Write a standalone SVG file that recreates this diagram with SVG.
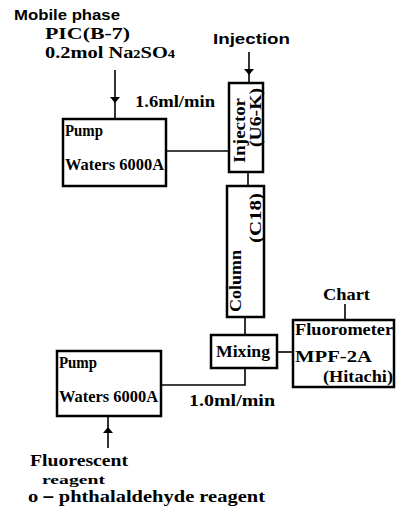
<svg xmlns="http://www.w3.org/2000/svg" width="401" height="509" viewBox="0 0 401 509">
<style>
.box{fill:#fff;stroke:#000;stroke-width:2.5}
.ln{fill:none;stroke:#000;stroke-width:1.6}
text{font-family:"Liberation Serif","DejaVu Serif",serif;font-weight:bold;fill:#000;font-size:17px}
.sans{font-family:"Liberation Sans","DejaVu Sans",sans-serif;font-size:15px}
</style>
<defs>
<marker id="ah" viewBox="0 0 6 10" refX="3" refY="5" markerWidth="6" markerHeight="10" markerUnits="userSpaceOnUse" orient="auto">
<path d="M0,0 L6,5 L0,10 Z" fill="#000"/>
</marker>
</defs>
<g id="labels">
<text x="14" y="20" class="sans" textLength="106" lengthAdjust="spacingAndGlyphs">Mobile phase</text>
<text x="45" y="39" textLength="85" lengthAdjust="spacingAndGlyphs">PIC(B-7)</text>
<text x="45" y="58" textLength="130" lengthAdjust="spacingAndGlyphs">0.2mol Na<tspan font-size="12">2</tspan>SO<tspan font-size="12">4</tspan></text>
<text x="135" y="107" textLength="80" lengthAdjust="spacingAndGlyphs">1.6ml/min</text>
<text x="213" y="44" class="sans" textLength="77" lengthAdjust="spacingAndGlyphs">Injection</text>
<text x="323" y="300" textLength="47" lengthAdjust="spacingAndGlyphs">Chart</text>
<text x="189" y="406" textLength="86" lengthAdjust="spacingAndGlyphs">1.0ml/min</text>
<text x="30" y="466" style="font-size:16px" textLength="98" lengthAdjust="spacingAndGlyphs">Fluorescent</text>
<text x="42" y="484" style="font-size:13px" textLength="63" lengthAdjust="spacingAndGlyphs">reagent</text>
<text x="28" y="502" textLength="237" lengthAdjust="spacingAndGlyphs">o－phthalaldehyde reagent</text>
</g>
<g id="connectors">
<path class="ln" d="M115,70 L115,100 L115,119" marker-mid="url(#ah)"/>
<line class="ln" x1="166" y1="151" x2="229" y2="151"/>
<path class="ln" d="M249,52 L249,72 L249,83" marker-mid="url(#ah)"/>
<line class="ln" x1="248" y1="172" x2="248" y2="186"/>
<line class="ln" x1="245" y1="317" x2="245" y2="335"/>
<line class="ln" x1="277" y1="352" x2="293" y2="352"/>
<line class="ln" x1="345" y1="304" x2="345" y2="320"/>
<path class="ln" d="M245,368 L245,385 L161,385"/>
<path class="ln" d="M108,448 L108,430 L108,416" marker-mid="url(#ah)"/>
</g>
<g id="pump1">
<rect class="box" x="63" y="119" width="103" height="67"/>
<text x="65" y="136" style="font-size:16px" textLength="38" lengthAdjust="spacingAndGlyphs">Pump</text>
<text x="65" y="170" style="font-size:16px" textLength="99" lengthAdjust="spacingAndGlyphs">Waters 6000A</text>
</g>
<g id="injector">
<rect class="box" x="229" y="83" width="34" height="89"/>
<text transform="translate(245 163) rotate(-90)" style="font-size:16px" textLength="65" lengthAdjust="spacingAndGlyphs">Injector</text>
<text transform="translate(261 147) rotate(-90)" style="font-size:16px" textLength="59" lengthAdjust="spacingAndGlyphs">(U6-K)</text>
</g>
<g id="column">
<rect class="box" x="227" y="186" width="37" height="131"/>
<text transform="translate(241 312) rotate(-90)" style="font-size:16px" textLength="62" lengthAdjust="spacingAndGlyphs">Column</text>
<text transform="translate(261 243) rotate(-90)" style="font-size:16px" textLength="50" lengthAdjust="spacingAndGlyphs">(C18)</text>
</g>
<g id="mixing">
<rect class="box" x="211" y="335" width="66" height="33"/>
<text x="216" y="357" style="font-size:16px" textLength="54" lengthAdjust="spacingAndGlyphs">Mixing</text>
</g>
<g id="fluorometer">
<rect class="box" x="293" y="320" width="101" height="67"/>
<text x="295" y="335" style="font-size:16px" textLength="98" lengthAdjust="spacingAndGlyphs">Fluorometer</text>
<text x="295" y="362" textLength="77" lengthAdjust="spacingAndGlyphs">MPF-2A</text>
<text x="323" y="382" textLength="70" lengthAdjust="spacingAndGlyphs">(Hitachi)</text>
</g>
<g id="pump2">
<rect class="box" x="57" y="351" width="104" height="65"/>
<text x="59" y="368" style="font-size:16px" textLength="38" lengthAdjust="spacingAndGlyphs">Pump</text>
<text x="59" y="402" style="font-size:16px" textLength="99" lengthAdjust="spacingAndGlyphs">Waters 6000A</text>
</g>
</svg>
